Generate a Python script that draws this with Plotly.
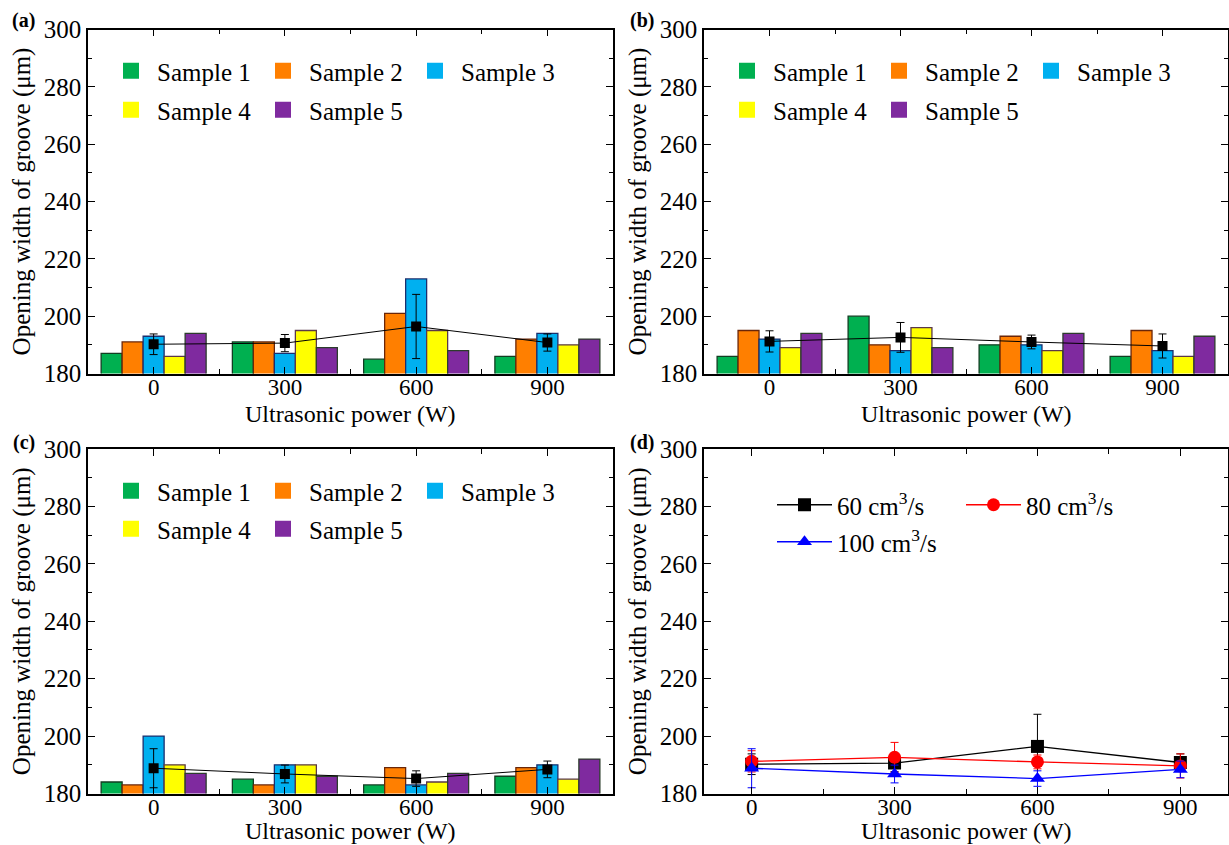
import plotly.graph_objects as go

# ---------------- data ----------------
power_labels = ["0", "300", "600", "900"]
power_pos = [0, 1, 2, 3]          # category positions in bar panels
power_w = [0, 300, 600, 900]      # numeric power for panel (d)

sample_names = ["Sample 1", "Sample 2", "Sample 3", "Sample 4", "Sample 5"]
sample_colors = ["#00B050", "#FF7F00", "#00B0F0", "#FFFF00", "#7F2A9F"]
sample_edges = ["#123d22", "#6a2608", "#1b2f6e", "#5a3848", "#2c3d2c"]

# panel (a): 60 cm3/s
a_s1 = [187, 191, 185, 186]
a_s2 = [191, 191, 201, 192]
a_s3 = [193, 187, 213, 194]
a_s4 = [186, 195, 195, 190]
a_s5 = [194, 189, 188, 192]
a_mean = [190.2, 190.6, 196.4, 190.8]
a_sd = [3.6, 3.0, 11.2, 3.0]

# panel (b): 80 cm3/s
b_s1 = [186, 200, 190, 186]
b_s2 = [195, 190, 193, 195]
b_s3 = [192, 188, 190, 188]
b_s4 = [189, 196, 188, 186]
b_s5 = [194, 189, 194, 193]
b_mean = [191.2, 192.6, 191.0, 189.6]
b_sd = [3.7, 5.2, 2.4, 4.2]

# panel (c): 100 cm3/s
c_s1 = [184, 185, 183, 186]
c_s2 = [183, 183, 189, 189]
c_s3 = [200, 190, 183, 190]
c_s4 = [190, 190, 184, 185]
c_s5 = [187, 186, 187, 192]
c_mean = [188.8, 186.8, 185.2, 188.4]
c_sd = [6.8, 3.1, 2.7, 2.9]

flow_names = ["60 cm<sup>3</sup>/s", "80 cm<sup>3</sup>/s", "100 cm<sup>3</sup>/s"]
flow_colors = ["#000000", "#FF0000", "#0000FF"]
flow_symbols = ["square", "circle", "triangle-up"]
flow_means = [a_mean, b_mean, c_mean]
flow_sds = [a_sd, b_sd, c_sd]

y_title = "Opening width of groove (μm)"
x_title = "Ultrasonic power (W)"
panel_tags = ["(a)", "(b)", "(c)", "(d)"]
FONT = "Liberation Serif"

W, H = 1229, 845
fig = go.Figure()

panels = [
    ("x", "y", [a_s1, a_s2, a_s3, a_s4, a_s5], a_mean, a_sd, ("legend", "legend2")),
    ("x2", "y2", [b_s1, b_s2, b_s3, b_s4, b_s5], b_mean, b_sd, ("legend3", "legend4")),
    ("x3", "y3", [c_s1, c_s2, c_s3, c_s4, c_s5], c_mean, c_sd, ("legend5", "legend6")),
]

for xa, ya, series, mean, sd, legs in panels:
    for i, vals in enumerate(series):
        fig.add_trace(go.Bar(
            x=power_pos, y=vals, xaxis=xa, yaxis=ya, name=sample_names[i],
            marker=dict(color=sample_colors[i], line=dict(color=sample_edges[i], width=1.3)),
            showlegend=False,
        ))
    fig.add_trace(go.Scatter(
        x=power_pos, y=mean, xaxis=xa, yaxis=ya, mode="lines+markers",
        line=dict(color="black", width=1),
        marker=dict(symbol="square", size=10, color="black"),
        error_y=dict(type="data", array=sd, visible=True, color="black", thickness=1, width=4),
        showlegend=False,
    ))
    # legend entries (two rows)
    for i in range(5):
        fig.add_trace(go.Scatter(
            x=[None], y=[None], xaxis=xa, yaxis=ya, mode="markers", name=sample_names[i],
            marker=dict(symbol="square", size=16, color=sample_colors[i], line=dict(width=0)),
            legend=legs[0] if i < 3 else legs[1], showlegend=True,
        ))

for k in range(3):
    fig.add_trace(go.Scatter(
        x=power_w, y=flow_means[k], xaxis="x4", yaxis="y4", mode="lines+markers",
        name=flow_names[k],
        line=dict(color=flow_colors[k], width=1.3),
        marker=dict(symbol=flow_symbols[k], size=13, color=flow_colors[k]),
        error_y=dict(type="data", array=flow_sds[k], visible=True, color=flow_colors[k],
                     thickness=1, width=4),
        legend="legend7" if k < 2 else "legend8",
    ))

xdom_l = [88 / W, 613 / W]
xdom_r = [704 / W, 1228 / W]
ydom_t = [1 - 373.5 / H, 1 - 29.5 / H]
ydom_b = [1 - 793.5 / H, 1 - 449 / H]

tickfont = dict(family=FONT, size=25, color="black")
xtickfont = dict(family=FONT, size=23, color="black")
xtitlefont = dict(family=FONT, size=24, color="black")


def yaxis(domain, anchor):
    return dict(
        domain=domain, anchor=anchor, range=[180, 300], tick0=180, dtick=20,
        ticks="inside", ticklen=7, tickwidth=1.3, tickcolor="black",
        showline=True, linecolor="black", linewidth=1.5, mirror="ticks",
        showgrid=False, zeroline=False, tickfont=tickfont, automargin=False,
        minor=dict(dtick=10, ticks="inside", ticklen=4, tickwidth=1.2, tickcolor="black"),
        title=dict(text=y_title, font=tickfont, standoff=6),
    )


def xcat(domain, anchor):
    return dict(
        domain=domain, anchor=anchor, range=[-0.5, 3.5],
        tickmode="array", tickvals=power_pos, ticktext=power_labels,
        ticks="inside", ticklen=7, tickwidth=1.3, tickcolor="black",
        showline=True, linecolor="black", linewidth=1.5, mirror="ticks",
        showgrid=False, zeroline=False, tickfont=xtickfont, automargin=False,
        ticklabelstandoff=-8,
        minor=dict(tickmode="array", tickvals=[0.5, 1.5, 2.5], ticks="inside",
                   ticklen=5, tickwidth=1.2, tickcolor="black"),
    )


xd = dict(
    domain=xdom_r, anchor="y4", range=[-100, 1000],
    tickmode="array", tickvals=power_w, ticktext=power_labels,
    ticks="inside", ticklen=7, tickwidth=1.3, tickcolor="black",
    showline=True, linecolor="black", linewidth=1.5, mirror="ticks",
    showgrid=False, zeroline=False, tickfont=xtickfont, automargin=False,
    ticklabelstandoff=-8,
    minor=dict(tickmode="array", tickvals=[150, 450, 750], ticks="inside",
               ticklen=5, tickwidth=1.2, tickcolor="black"),
)

legfont = dict(family=FONT, size=25, color="black")


def leg(xpx, ypx, entry, iw=42):
    return dict(x=xpx / W, y=1 - ypx / H, xanchor="left", yanchor="middle",
                orientation="h", bgcolor="rgba(0,0,0,0)", borderwidth=0,
                font=legfont, entrywidth=entry, entrywidthmode="pixels",
                itemwidth=iw, itemclick=False, itemdoubleclick=False)


# panel tags and x-axis titles (positions in px of the page)
annots = []
tag_pos = [(23.5, 20), (642, 20), (23.5, 442), (642, 442)]
for t, (px, py) in zip(panel_tags, tag_pos):
    annots.append(dict(text="<b>" + t + "</b>", x=px / W, y=1 - py / H,
                       xref="paper", yref="paper", xanchor="center", yanchor="middle",
                       showarrow=False, font=dict(family=FONT, size=20, color="black")))
xt_pos = [(350.5, 414), (966, 414), (350.5, 831), (966, 831)]
for px, py in xt_pos:
    annots.append(dict(text=x_title, x=px / W, y=1 - py / H,
                       xref="paper", yref="paper", xanchor="center", yanchor="middle",
                       showarrow=False, font=xtitlefont))

fig.update_layout(
    width=W, height=H,
    margin=dict(l=0, r=0, t=0, b=0, pad=0, autoexpand=False),
    paper_bgcolor="white", plot_bgcolor="white",
    font=dict(family=FONT, color="black"),
    barmode="group", bargap=0.2, bargroupgap=0,
    xaxis=xcat(xdom_l, "y"), yaxis=yaxis(ydom_t, "x"),
    xaxis2=xcat(xdom_r, "y2"), yaxis2=yaxis(ydom_t, "x2"),
    xaxis3=xcat(xdom_l, "y3"), yaxis3=yaxis(ydom_b, "x3"),
    xaxis4=xd, yaxis4=yaxis(ydom_b, "x4"),
    legend=leg(105, 71, 95), legend2=leg(105, 110, 95),
    legend3=leg(721, 71, 95), legend4=leg(721, 110, 95),
    legend5=leg(105, 491, 95), legend6=leg(105, 529, 95),
    legend7=leg(772, 505, 119, 55), legend8=leg(772, 542, 119, 55),
    annotations=annots,
)

fig.write_html("out.html", config={"displayModeBar": False},
               post_script="document.body.style.margin='0';")
